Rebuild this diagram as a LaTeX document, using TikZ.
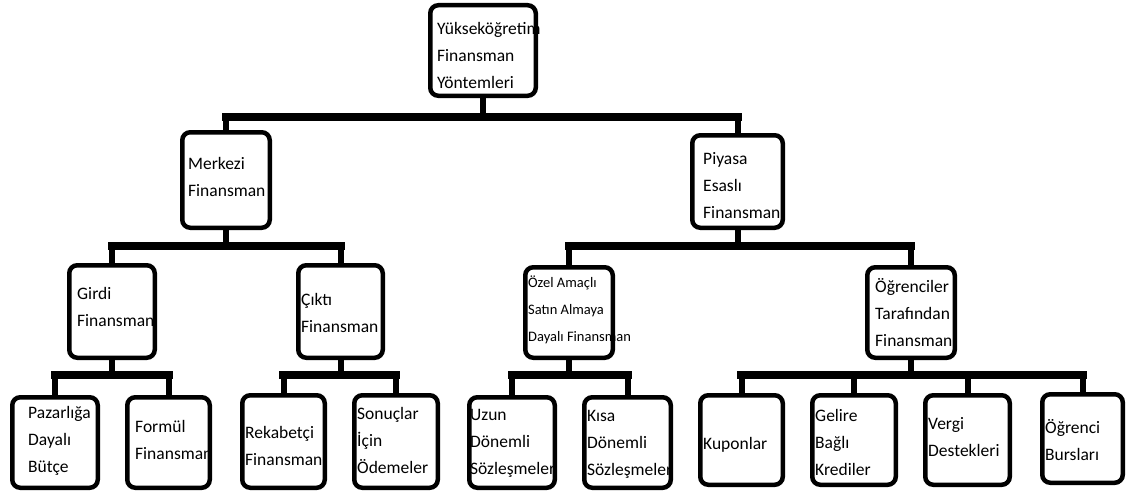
\documentclass[tikz,border=0pt]{standalone}
\usepackage{fontspec}
\setmainfont{Carlito}
\begin{document}
\begin{tikzpicture}[x=1pt,y=-1pt,
  box/.style={draw=black, line width=4.5pt, rounded corners=8pt, fill=white, inner sep=0pt, outer sep=0pt},
  lbl/.style={font=\fontsize{17.5}{27}\selectfont, align=left, inner sep=0pt, anchor=west, text=black},
  small/.style={font=\fontsize{14.5}{27}\selectfont},
  vert/.style={line width=6pt},
  bus/.style={line width=8.5pt, line cap=rect}]
\useasboundingbox (0,0) rectangle (1131,495);

% box with outer edges x1,y1,x2,y2
\newcommand\cbox[5]{\node[box, minimum width={#4-#2-4.5}, minimum height={#5-#3-4.5}] (#1) at ({(#2+#4)/2},{(#3+#5)/2}) {};}

% bus levels
\coordinate (b1) at (0,117);
\coordinate (b2) at (0,246);
\coordinate (b3) at (0,375);

% boxes
\cbox{T}{428}{3}{538}{98}
\cbox{M}{180}{130}{272}{230}
\cbox{P}{690}{133}{785}{230}
\cbox{G}{67}{263}{157}{360}
\cbox{C}{296}{263}{385}{360}
\cbox{O}{523}{265}{615}{360}
\cbox{S1}{865}{265}{957}{360}
\cbox{PB}{10}{395}{100}{490}
\cbox{F}{125}{395}{212}{490}
\cbox{R}{240}{393}{327}{490}
\cbox{SO}{352}{393}{440}{490}
\cbox{U}{467}{395}{557}{490}
\cbox{K}{582}{395}{673}{490}
\cbox{KU}{698}{393}{785}{487}
\cbox{GE}{810}{393}{898}{487}
\cbox{V}{923}{393}{1012}{487}
\cbox{OB}{1040}{392}{1125}{485}

% verticals: parents down to their bus, children up to theirs
\foreach \n/\b in {T/b1, M/b2, P/b2, G/b3, C/b3, O/b3, S1/b3}
  \draw[vert] (\n.south) -- (\n.south |- \b);
\foreach \n/\b in {M/b1, P/b1, G/b2, C/b2, O/b2, S1/b2,
                   PB/b3, F/b3, R/b3, SO/b3, U/b3, K/b3, KU/b3, GE/b3, V/b3, OB/b3}
  \draw[vert] (\n.north) -- (\n.north |- \b);

% buses
\draw[bus] (M.north |- b1) -- (P.north |- b1);
\draw[bus] (G.north |- b2) -- (C.north |- b2);
\draw[bus] (O.north |- b2) -- (S1.north |- b2);
\draw[bus] (PB.north |- b3) -- (F.north |- b3);
\draw[bus] (R.north |- b3) -- (SO.north |- b3);
\draw[bus] (U.north |- b3) -- (K.north |- b3);
\draw[bus] (KU.north |- b3) -- (OB.north |- b3);

% labels
\node[lbl] (T-t) at (437,55) {Yükseköğretim\\Finansman\\Yöntemleri};
\node[lbl] (M-t) at (188,177) {Merkezi\\Finansman};
\node[lbl] (P-t) at (703,186) {Piyasa\\Esaslı\\Finansman};
\node[lbl] (G-t) at (77,307) {Girdi\\Finansman};
\node[lbl] (C-t) at (301,313) {Çıktı\\Finansman};
\node[lbl, small] (O-t) at (528,310) {Özel Amaçlı\\Satın Almaya\\Dayalı Finansman};
\node[lbl] (S1-t) at (875,313) {Öğrenciler\\Tarafından\\Finansman};
\node[lbl] (PB-t) at (28,441) {Pazarlığa\\Dayalı\\Bütçe};
\node[lbl] (F-t) at (135,440) {Formül\\Finansman};
\node[lbl] (R-t) at (245,446) {Rekabetçi\\Finansman};
\node[lbl] (SO-t) at (357,440) {Sonuçlar\\İçin\\Ödemeler};
\node[lbl] (U-t) at (470,443) {Uzun\\Dönemli\\Sözleşmeler};
\node[lbl] (K-t) at (587,444) {Kısa\\Dönemli\\Sözleşmeler};
\node[lbl] (KU-t) at (703,445) {Kuponlar};
\node[lbl] (GE-t) at (815,442) {Gelire\\Bağlı\\Krediler};
\node[lbl] (V-t) at (928,437) {Vergi\\Destekleri};
\node[lbl] (OB-t) at (1045,440) {Öğrenci\\Bursları};
\end{tikzpicture}
\end{document}
